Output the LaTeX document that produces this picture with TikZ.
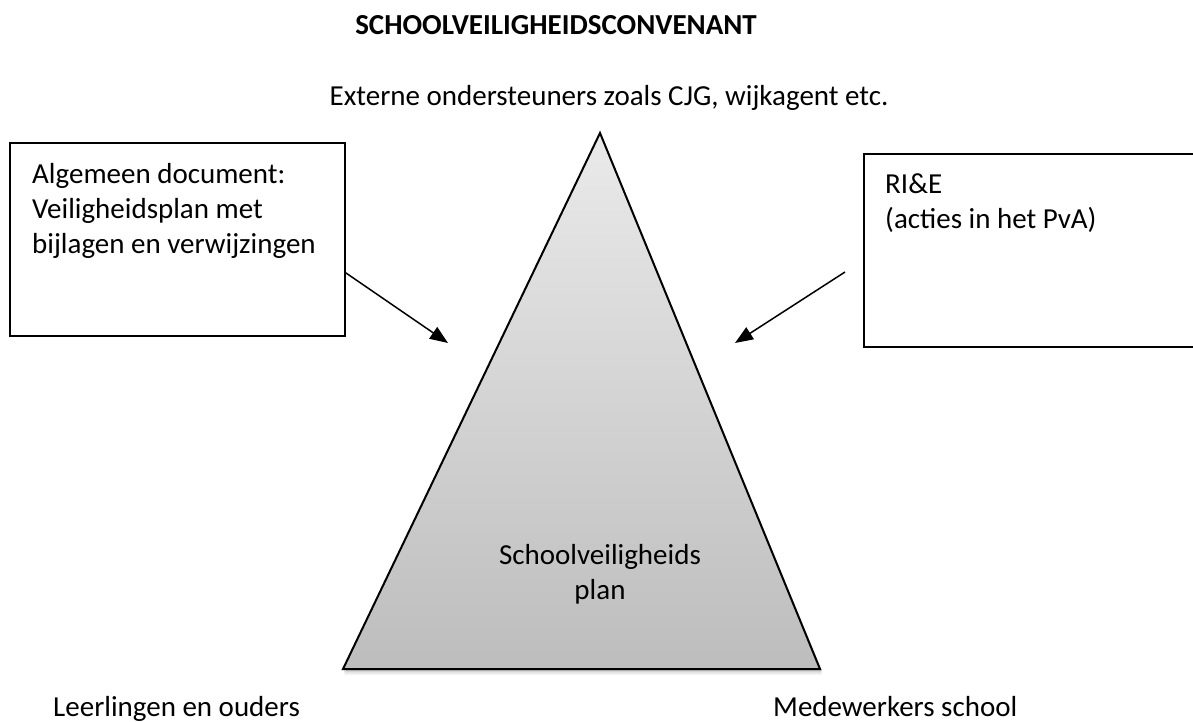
\documentclass[tikz,border=0pt]{standalone}
\usepackage{fontspec}
\setmainfont{Carlito}
\usetikzlibrary{arrows.meta,calc}
\definecolor{shadetop}{HTML}{EAEAEA}
\definecolor{shadebot}{HTML}{BDBDBD}
\begin{document}
\begin{tikzpicture}[x=1pt,y=-1pt,
  txt/.style={font=\fontsize{29}{35}\selectfont, inner sep=0pt, align=left},
  ttl/.style={font=\fontsize{29}{35}\selectfont\bfseries, inner sep=0pt},
  panel/.style={draw=black, line width=2pt, fill=white, rectangle, inner sep=0pt, outer sep=0pt},
  pointer/.style={line width=1.5pt, -{Triangle[length=18pt,width=14pt]}}]
\useasboundingbox (0,0) rectangle (1193,722);
\clip (0,0) rectangle (1193,722);

% title and the four surrounding parties
\node[ttl, anchor=base] (title) at (556,35) {SCHOOLVEILIGHEIDSCONVENANT};
\node[txt, anchor=base] (extern) at (609,106) {Externe ondersteuners zoals CJG, wijkagent etc.};
\node[txt, anchor=base west] (pupils) at (53,716) {Leerlingen en ouders};
\node[txt, anchor=base west] (staff) at (773,716) {Medewerkers school};

% soft shadow under the pyramid
\foreach \d/\o in {6/0.04,4.5/0.06,3/0.08,1.5/0.1}
  \fill[black, opacity=\o] (601,133+\d) -- (822,669+\d) -- (344,669+\d) -- cycle;

% the pyramid
\coordinate (apex) at (600,133);
\coordinate (baseL) at (343,669);
\coordinate (baseR) at (820,669);
\draw[line width=2pt, line join=miter, top color=shadetop, bottom color=shadebot]
  (apex) -- (baseR) -- (baseL) -- cycle;
% multi-line nodes: the base anchor sits on the last line
\node[txt, anchor=base, align=center] (plan) at (600,599) {Schoolveiligheids\\plan};

% the two input documents
\node[panel, minimum width=335pt, minimum height=193pt] (doc) at (177.5,239.5) {};
\node[txt, anchor=base west] (doctext) at (32,253)
  {Algemeen document:\\Veiligheidsplan met\\bijlagen en verwijzingen};
\node[panel, minimum width=346pt, minimum height=193pt] (rie) at (1037,250.5) {};
\node[txt, anchor=base west] (rietext) at (885,228) {RI\&E\\(acties in het PvA)};

% arrows into the pyramid
\coordinate (docin) at (448,343);
\coordinate (riefrom) at (845,272);
\coordinate (riein) at (735,343);
\draw[pointer] ($(doc.north east)!0.67!(doc.south east)$) -- (docin);
\draw[pointer] (riefrom) -- (riein);
\end{tikzpicture}
\end{document}
